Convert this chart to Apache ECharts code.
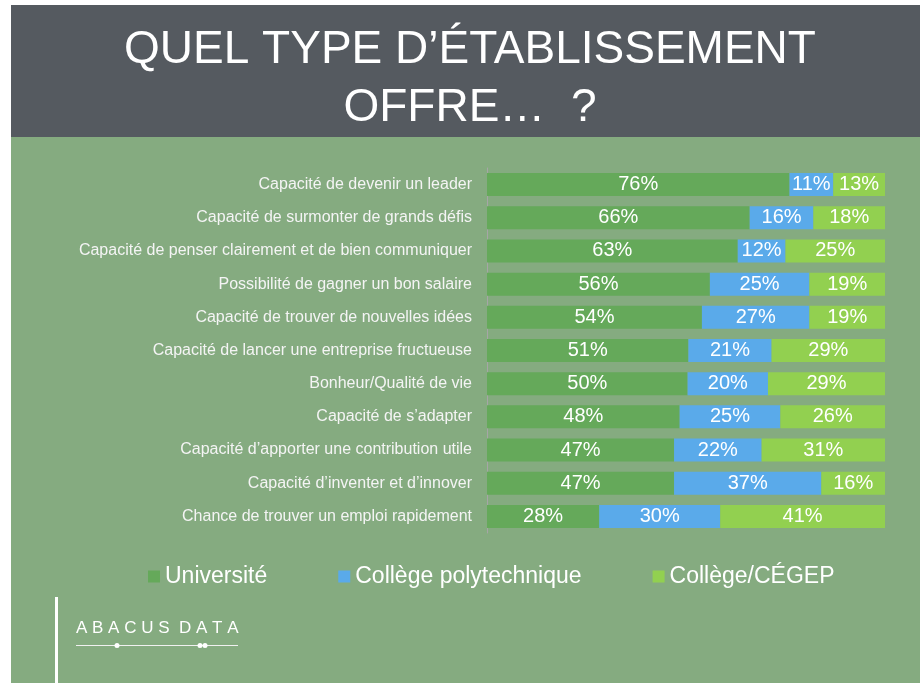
<!DOCTYPE html>
<html>
<head>
<meta charset="utf-8">
<script src="https://cdn.jsdelivr.net/npm/echarts@6/dist/echarts.min.js"></script>
<style>
  html, body { margin: 0; padding: 0; background: #fff; }
  #chart { width: 920px; height: 683px; }
</style>
</head>
<body>
<div id="chart"></div>
<script>
const categories = [
  "Capacité de devenir un leader",
  "Capacité de surmonter de grands défis",
  "Capacité de penser clairement et de bien communiquer",
  "Possibilité de gagner un bon salaire",
  "Capacité de trouver de nouvelles idées",
  "Capacité de lancer une entreprise fructueuse",
  "Bonheur/Qualité de vie",
  "Capacité de s’adapter",
  "Capacité d’apporter une contribution utile",
  "Capacité d’inventer et d’innover",
  "Chance de trouver un emploi rapidement"
];
const universite = [76, 66, 63, 56, 54, 50.6, 50.4, 48.4, 47, 47, 28.2];
const polytechnique = [11, 16, 12, 25, 27, 20.9, 20.2, 25.3, 22, 37, 30.4];
const cegep = [13, 18, 25, 19, 19, 28.5, 29.4, 26.3, 31, 16, 41.4];

const font = "Liberation Sans";
const chart = echarts.init(document.getElementById("chart"));

function bar(name, data, color) {
  return {
    name: name,
    type: "bar",
    stack: "total",
    data: data,
    barWidth: 23,
    itemStyle: { color: color },
    label: {
      show: true,
      position: "inside",
      color: "#fff",
      fontSize: 20,
      fontFamily: font,
      formatter: (p) => Math.round(p.value) + "%"
    }
  };
}

chart.setOption({
  backgroundColor: "#fff",
  animation: false,
  title: {
    text: "QUEL TYPE D’ÉTABLISSEMENT\nOFFRE…  ?",
    left: 465,
    textAlign: "center",
    top: 16,
    textStyle: {
      color: "#fff",
      fontSize: 46,
      lineHeight: 58,
      fontWeight: "normal",
      fontFamily: font
    }
  },
  graphic: [
    { type: "rect", z: -10, shape: { x: 11, y: 5, width: 909, height: 132 }, style: { fill: "#555a60" } },
    { type: "rect", z: -10, shape: { x: 11, y: 137, width: 909, height: 546 }, style: { fill: "#85ab80" } },
    { type: "rect", shape: { x: 55, y: 597, width: 3, height: 86 }, style: { fill: "#fff" } },
    { type: "text", left: 76, top: 620, style: { text: "A B A C U S  D A T A", fill: "#fff", fontSize: 17, fontFamily: font } },
    { type: "line", shape: { x1: 76, y1: 645.5, x2: 238, y2: 645.5 }, style: { stroke: "#f0f0f0", lineWidth: 1 } },
    { type: "circle", shape: { cx: 117, cy: 645.5, r: 2.5 }, style: { fill: "#fff" } },
    { type: "circle", shape: { cx: 200, cy: 645.5, r: 2.5 }, style: { fill: "#fff" } },
    { type: "circle", shape: { cx: 205, cy: 645.5, r: 2.5 }, style: { fill: "#fff" } }
  ],
  legend: {
    top: 560,
    left: 143,
    itemGap: 71,
    itemWidth: 12,
    itemHeight: 12,
    icon: "rect",
    textStyle: { color: "#fff", fontSize: 23, fontFamily: font },
    data: ["Université", "Collège polytechnique", "Collège/CÉGEP"]
  },
  grid: { left: 487, right: 35, top: 168, bottom: 150 },
  xAxis: {
    type: "value",
    min: 0,
    max: 100,
    show: false
  },
  yAxis: {
    type: "category",
    inverse: true,
    data: categories,
    axisLine: { show: true, lineStyle: { color: "#a6a6a6", width: 1 } },
    axisTick: { show: false },
    axisLabel: { color: "#f4f4f4", fontSize: 16, fontFamily: font, margin: 15 }
  },
  series: [
    bar("Université", universite, "#65a95a"),
    bar("Collège polytechnique", polytechnique, "#5aaaea"),
    bar("Collège/CÉGEP", cegep, "#92d050")
  ]
});
</script>
</body>
</html>
